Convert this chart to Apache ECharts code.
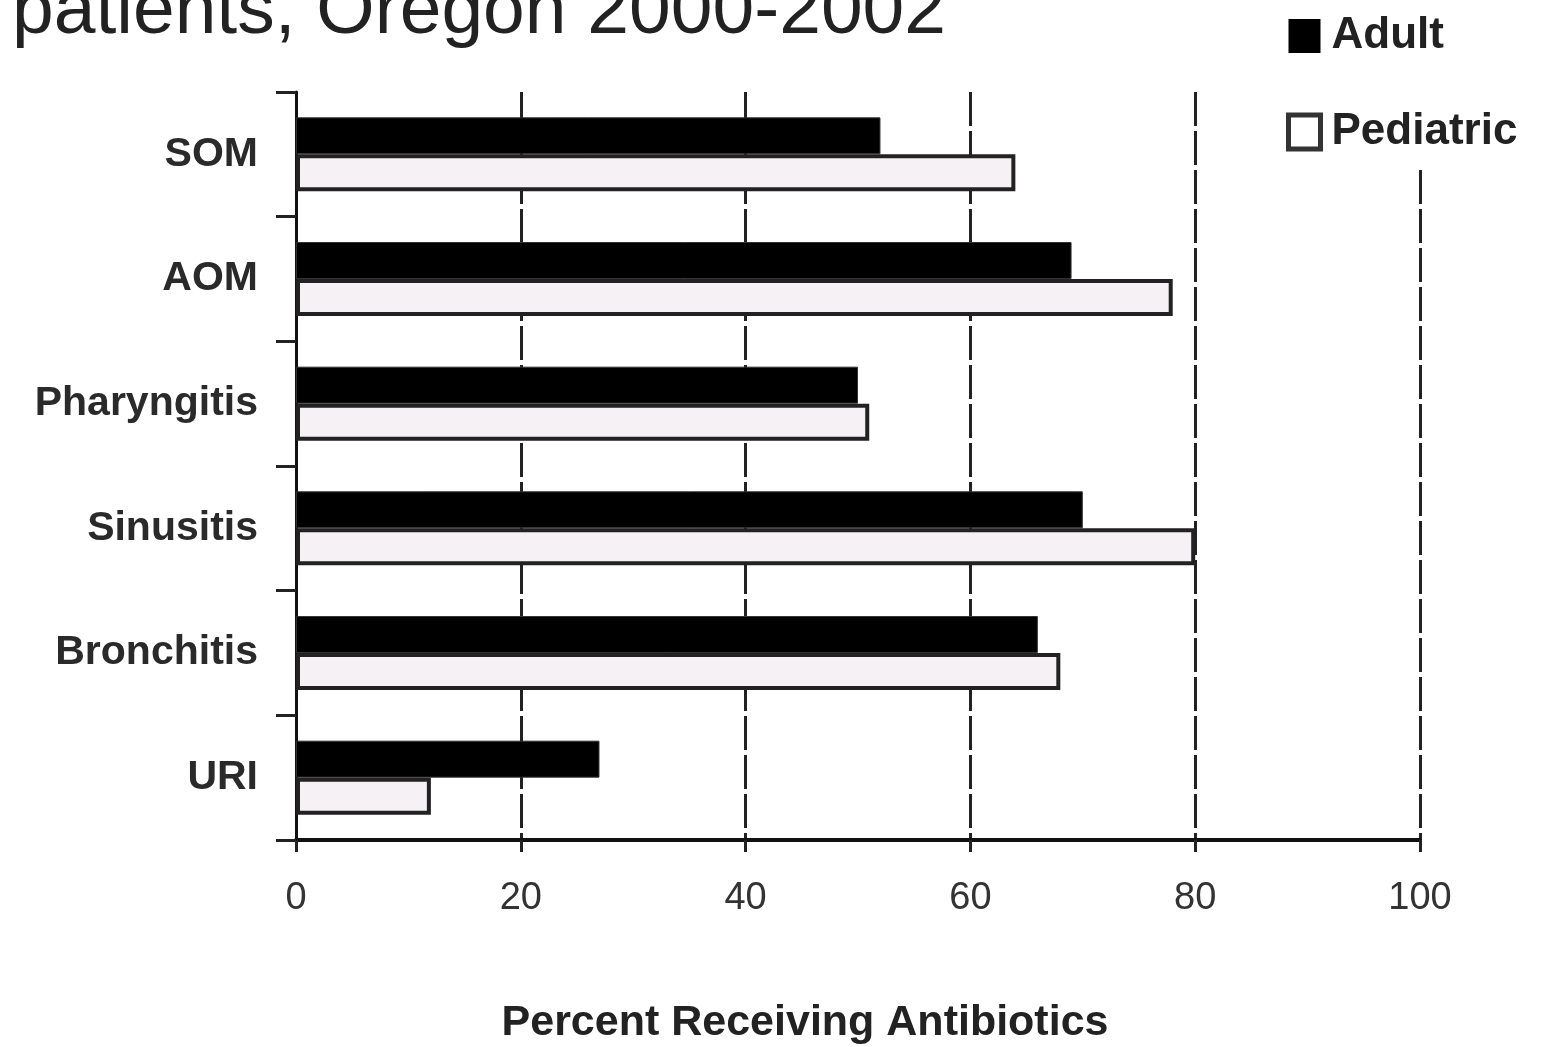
<!DOCTYPE html>
<html>
<head>
<meta charset="utf-8">
<script src="https://cdn.jsdelivr.net/npm/echarts@6/dist/echarts.min.js"></script>
<style>
  html, body { margin: 0; padding: 0; background: #fff; }
  #chart { width: 1544px; height: 1047px; }
</style>
</head>
<body>
<div id="chart"></div>
<script>
  // data
  let categories = ['SOM', 'AOM', 'Pharyngitis', 'Sinusitis', 'Bronchitis', 'URI'];
  let adult = [52, 69, 50, 70, 66, 27];
  let pediatric = [64, 78, 51, 80, 68, 12];
  let xTicks = [0, 20, 40, 60, 80, 100];

  let font = '"Liberation Sans", Arial, sans-serif';
  let chart = echarts.init(document.getElementById('chart'));

  let option = {
    backgroundColor: '#fff',
    animation: false,
    title: {
      text: 'patients, Oregon 2000-2002',
      left: 7,
      top: -30,
      textStyle: {fontFamily: font, fontSize: 75, fontWeight: 'normal', color: '#222'}
    },
    legend: {
      orient: 'vertical',
      left: 1280,
      top: 8,
      padding: [6, 6, 16, 6],
      backgroundColor: '#fff',
      icon: 'rect',
      itemWidth: 32,
      itemHeight: 34,
      itemGap: 52,
      textStyle: {fontFamily: font, fontSize: 44, fontWeight: 'bold', color: '#222', lineHeight: 38, padding: [0, 0, 0, 6]},
      data: [
        {name: 'Adult', itemStyle: {color: '#000', borderWidth: 0}},
        {name: 'Pediatric', itemStyle: {color: '#fff', borderColor: '#333', borderWidth: 5}}
      ]
    },
    grid: {left: 296, right: 124, top: 92, bottom: 207, outerBoundsMode: 'none'},
    xAxis: {
      type: 'value',
      min: 0,
      max: 100,
      interval: 20,
      name: 'Percent Receiving Antibiotics',
      nameLocation: 'middle',
      nameGap: 162,
      nameTextStyle: {fontFamily: font, fontSize: 43, fontWeight: 'bold', color: '#222', padding: [0, 106, 0, 0]},
      axisLine: {show: true, lineStyle: {color: '#111', width: 4}},
      axisTick: {show: true, length: 12, lineStyle: {color: '#222', width: 3}},
      axisLabel: {
        margin: 40,
        fontFamily: font, fontSize: 38, color: '#333',
        formatter: function (v) { return xTicks.indexOf(v) >= 0 ? String(v) : ''; }
      },
      splitLine: {show: true, lineStyle: {color: '#222', width: 3, type: [34, 5]}}
    },
    yAxis: {
      type: 'category',
      inverse: true,
      data: categories,
      axisLine: {show: true, lineStyle: {color: '#111', width: 3}},
      axisTick: {show: true, length: 20, lineStyle: {color: '#222', width: 3}},
      axisLabel: {margin: 38, fontFamily: font, fontSize: 41, fontWeight: 'bold', color: '#2a2a2a'},
      splitLine: {show: false}
    },
    series: [
      {
        name: 'Adult',
        type: 'bar',
        data: adult,
        barWidth: 37,
        barGap: '0%',
        itemStyle: {color: '#000', borderColor: '#333', borderWidth: 1}
      },
      {
        name: 'Pediatric',
        type: 'bar',
        data: pediatric,
        barWidth: 37,
        barGap: '0%',
        itemStyle: {color: '#f6f1f5', borderColor: '#222', borderWidth: 4}
      }
    ]
  };
  chart.setOption(option);
</script>
</body>
</html>
